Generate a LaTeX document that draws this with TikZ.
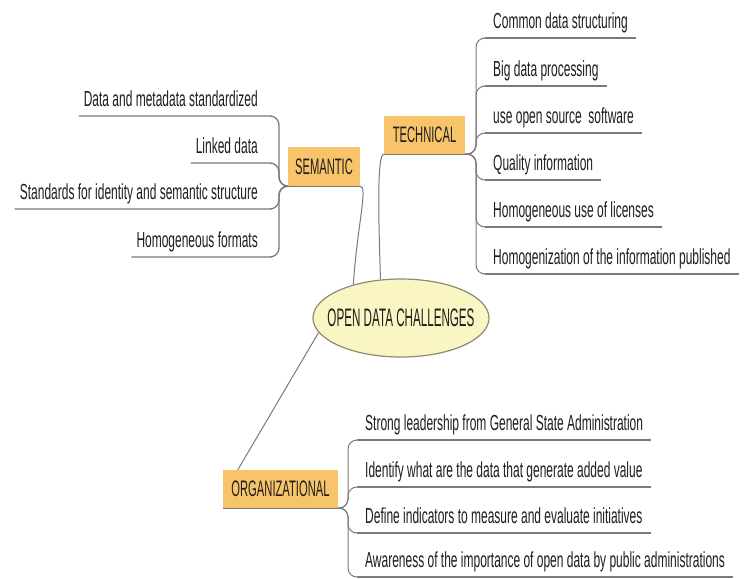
\documentclass[tikz,border=0pt]{standalone}
\usepackage{fontspec}
\setmainfont{Liberation Sans}
\newfontfamily\itemfont[FakeStretch=0.55]{Liberation Sans}
\newfontfamily\boxfont[FakeStretch=0.5]{Liberation Sans}
\newfontfamily\ellfont[FakeStretch=0.46]{Liberation Sans}
\usetikzlibrary{shapes.geometric,calc}
\definecolor{boxorange}{HTML}{F7C46A}
\definecolor{ellfill}{HTML}{FAF6C4}
\definecolor{ellline}{HTML}{8C8A74}
\definecolor{linegray}{HTML}{7A7A7A}
\definecolor{txt}{HTML}{1E1E1E}
\begin{document}
\begin{tikzpicture}[x=1pt,y=-1pt,
  conn/.style={draw=linegray, line width=1pt, rounded corners=9pt},
  uline/.style={draw=linegray, line width=1.3pt, rounded corners=9pt},
  item/.style={font=\itemfont\fontsize{21.8}{24}\selectfont, text=txt, inner xsep=8pt, inner ysep=0pt, text depth=9pt},
  sitem/.style={item, inner xsep=5pt},
  cat/.style={fill=boxorange, font=\boxfont\fontsize{22.4}{24}\selectfont, text=txt, inner sep=0pt},
  root/.style={ellipse, draw=ellline, line width=1.2pt, fill=ellfill, inner sep=0pt,
    minimum width=176pt, minimum height=78pt, font=\ellfont\fontsize{25.3}{26}\selectfont, text=txt}]
\fill[white] (0,0) rectangle (748,579);
\useasboundingbox (0,0) rectangle (748,579);

% root
\node[root] (ell) at (401,318) {\makebox[0pt]{OPEN DATA CHALLENGES}};

% category boxes
\node[cat, minimum width=72pt, minimum height=39pt] (sem) at (324,166.5) {SEMANTIC};
\node[cat, minimum width=81pt, minimum height=38pt] (tech) at (424.5,135) {TECHNICAL};
\node[cat, minimum width=115pt, minimum height=38pt] (org) at (280.5,489) {ORGANIZATIONAL};

% semantic items
\node[sitem, anchor=south east] (s1) at (263,116) {Data and metadata standardized};
\node[sitem, anchor=south east] (s2) at (263,163) {Linked data};
\node[sitem, anchor=south east] (s3) at (263,209) {Standards for identity and semantic structure};
\node[sitem, anchor=south east] (s4) at (263,257) {Homogeneous formats};

% technical items
\node[item, anchor=south west] (t1) at (485,38) {Common data structuring};
\node[item, anchor=south west] (t2) at (485,86) {Big data processing};
\node[item, anchor=south west] (t3) at (485,133) {use open source\ \ software};
\node[item, anchor=south west] (t4) at (485,180) {Quality information};
\node[item, anchor=south west] (t5) at (485,227) {Homogeneous use of licenses};
\node[item, anchor=south west] (t6) at (485,274) {Homogenization of the information published};

% organizational items
\node[item, anchor=south west] (o1) at (357,440) {Strong leadership from General State Administration};
\node[item, anchor=south west] (o2) at (357,487) {Identify what are the data that generate added value};
\node[item, anchor=south west] (o3) at (357,533) {Define indicators to measure and evaluate initiatives};
\node[item, anchor=south west] (o4) at (357,577) {Awareness of the importance of open data by public administrations};

% box bottom lines
\draw[conn] (sem.south west) -- (sem.south east);
\draw[conn] (tech.south west) -- (tech.south east);
\draw[conn] (org.south west) -- (org.south east);

% semantic brace
\foreach \n in {s1,s2,s3,s4}{
  \draw[uline] (\n.south west) -- (\n.south east) -- (\n.south east -| 279,0) -- (279,186) -- (sem.south west);
}
% technical brace
\foreach \n in {t1,t2,t3,t4,t5,t6}{
  \draw[conn] (tech.south east) -- (476,154) -- (\n.south west -| 476,0) -- (\n.south west);
  \draw[uline] (\n.south west) -- (\n.south east);
}
% organizational brace
\foreach \n in {o1,o2,o3,o4}{
  \draw[conn] (org.south east) -- (348,508) -- (\n.south west -| 348,0) -- (\n.south west);
  \draw[uline] (\n.south west) -- (\n.south east);
}

% links to root
\draw[conn] (sem.south east) .. controls +(8,0) and +(4,-60) .. (ell.145);
\draw[conn] (tech.south west) .. controls +(-7,0) and +(-2,-60) .. (ell.118);
\draw[conn] ($(org.north west)+(15,0)$) -- (ell.190);
\end{tikzpicture}
\end{document}
